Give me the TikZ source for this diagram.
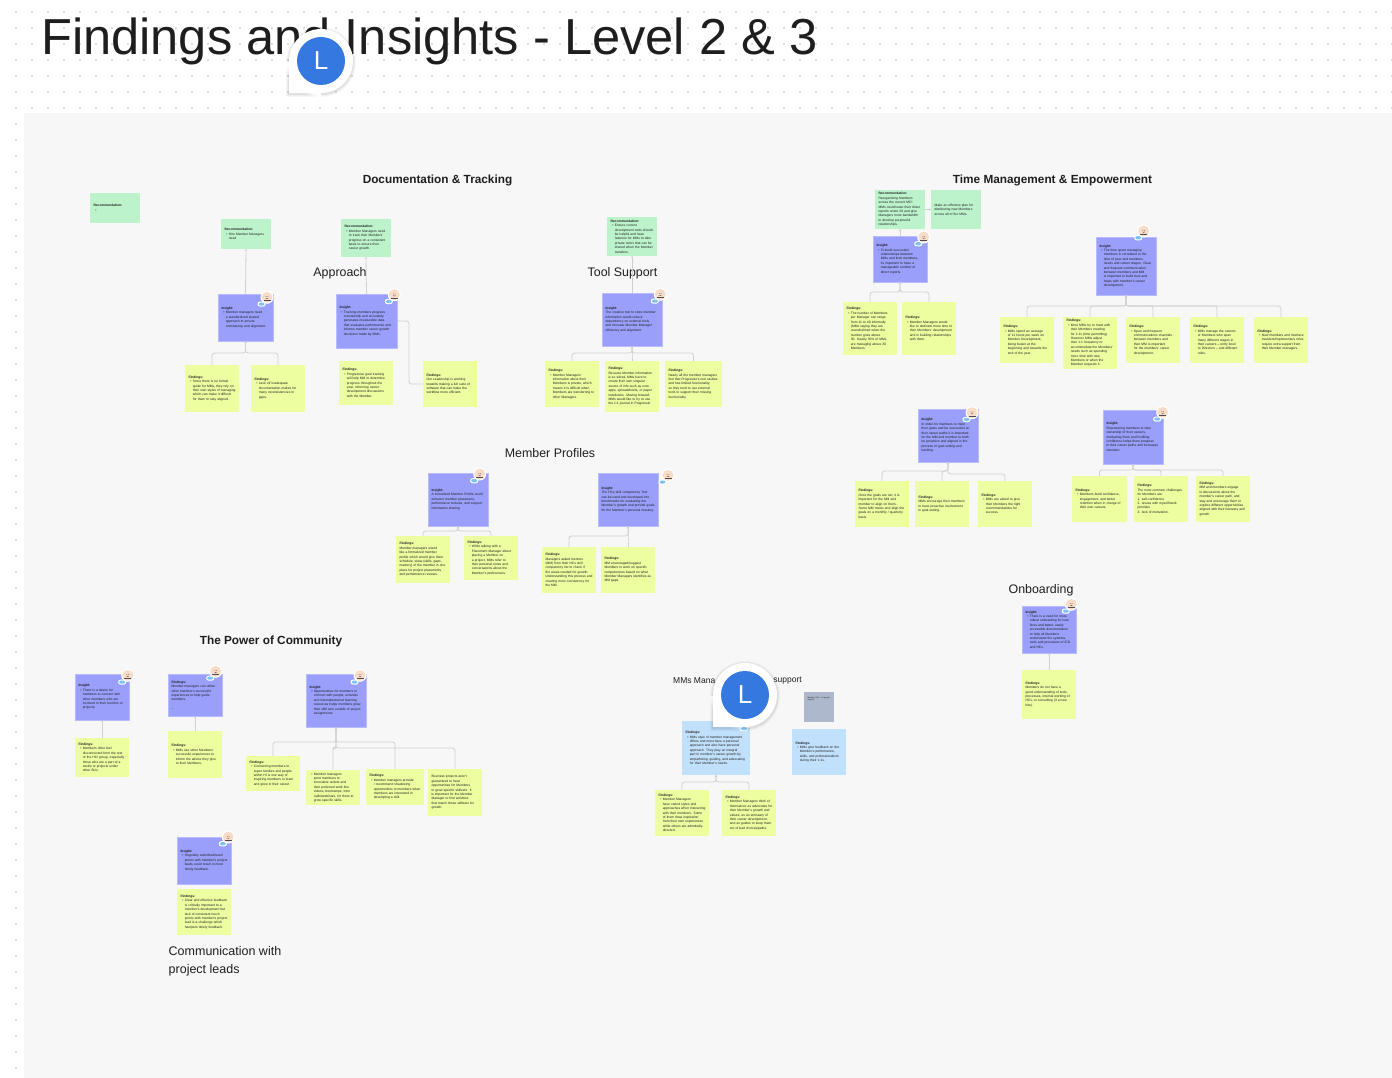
\documentclass[tikz,border=0pt]{standalone}
\usepackage{fontspec}
\setmainfont{Liberation Sans}
\usetikzlibrary{arrows.meta}
\hyphenpenalty=10000
\exhyphenpenalty=10000
\definecolor{inkc}{HTML}{1E1E1E}
\definecolor{insc}{HTML}{999FFB}
\definecolor{finc}{HTML}{EDFEA0}
\definecolor{recc}{HTML}{BCF3CB}
\definecolor{bluc}{HTML}{C1E0FB}
\definecolor{gryc}{HTML}{AEB8CC}
\definecolor{conc}{HTML}{D0D0D0}
\definecolor{bgc}{HTML}{F7F7F7}
\definecolor{dotc}{HTML}{BEBEBE}
\definecolor{peachc}{HTML}{F7DCC8}
\definecolor{pillc}{HTML}{7CC4F5}
\definecolor{markc}{HTML}{3478E0}
\tikzset{
  x=1pt,y=-1pt,
  notebase/.style={rectangle,inner sep=0pt,outer sep=0pt,align=left,text=inkc,
    font=\fontsize{3.3}{4.4}\selectfont},
  insight/.style={notebase,fill=insc,draw=insc!70!white,line width=.5pt},
  finding/.style={notebase,fill=finc},
  recom/.style={notebase,fill=recc},
  bluenote/.style={notebase,fill=bluc},
  greynote/.style={notebase,fill=gryc,font=\fontsize{2}{2.8}\selectfont},
  conn/.style={draw=conc,line width=.8pt,rounded corners=2.5pt,-{Stealth[length=2pt,width=2.4pt]}},
  sect/.style={text=inkc,inner sep=0pt,font=\fontsize{12.4}{14}\selectfont},
  sectb/.style={sect,font=\fontsize{11.8}{14}\selectfont\bfseries},
}
\newcommand{\stick}[7]{%
  \pgfmathsetmacro\cxv{(#3+#5)/2}\pgfmathsetmacro\cyv{(#4+#6)/2}%
  \pgfmathsetmacro\wv{#5-#3}\pgfmathsetmacro\hv{#6-#4}\pgfmathsetmacro\tv{\wv-7}%
  \node[#2,minimum width=\wv pt,minimum height=\hv pt,text width=\tv pt] (#1) at (\cxv,\cyv) {#7};}
\newcommand{\hd}[1]{{\bfseries #1}\par}
\newcommand{\itm}[1]{\hangindent=4.4pt\hangafter=0\leavevmode\llap{\textbullet\hspace{1.4pt}}#1\par}
\newcommand{\bus}[3]{\draw[conn] (#1.north) -- (#1.north |- 0,#3) -- (#2.south |- 0,#3) -- (#2.south);}
\newcommand{\avatar}[3]{%
  \begin{scope}[shift={(#1.north east)}]
    \fill[white] (#2,#3) circle[radius=6.5];
    \fill[peachc] (#2,#3) circle[radius=5.5];
    \draw[inkc,line width=.25pt] (#2-1.3,#3-.6) -- (#2-.4,#3-.6) (#2+.4,#3-.6) -- (#2+1.3,#3-.6) (#2-1,#3+.9) -- (#2,#3+1.4) -- (#2+1,#3+.9);
    \fill[inkc!80!white] (#2-3.5,#3+2.9) rectangle (#2+3.5,#3+3.4);
    \fill[white,rounded corners=2.6pt] (#2-9.6,#3+4.2) rectangle (#2-1.4,#3+9.4);
    \fill[pillc,rounded corners=1.6pt] (#2-8.6,#3+5.2) rectangle (#2-2.4,#3+8.4);
  \end{scope}}
\newcommand{\pinmark}[3]{%
  \foreach \g/\o in {3/.03,2/.04,1/.05}{
    \fill[black,opacity=\o] (#1,#2+1) circle[radius=32+\g] (#1-32-\g,#2+1) rectangle (#1,#2+33+\g);}
  \fill[white] (#1,#2) circle[radius=32];
  \fill[white] (#1-32,#2) rectangle (#1,#2+32);
  \fill[markc] (#1,#2) circle[radius=24];
  \node[text=white,inner sep=0pt,font=\fontsize{#3}{#3}\selectfont] (pin#1) at (#1,#2) {L};}
\begin{document}
\begin{tikzpicture}
\useasboundingbox (0,0) rectangle (1392,1078);
\fill[white] (0,0) rectangle (1392,1078);
\foreach \i in {1,...,87}{\foreach \j in {0,...,6}{\fill[dotc] (16*\i,12+16*\j) circle[radius=.8];}}
\foreach \j in {7,...,66}{\fill[dotc] (16,12+16*\j) circle[radius=.8];}
\fill[bgc] (24,113) rectangle (1392,1078);
% title and section labels
\node[anchor=west,text=inkc,inner sep=0pt,font=\fontsize{50.6}{56}\selectfont] (title) at (41,41) {Findings and Insights - Level 2 \& 3};
\node[sectb] (sDoc) at (437.5,180) {Documentation \& Tracking};
\node[sectb] (sTime) at (1052.5,180) {Time Management \& Empowerment};
\node[sectb] (sPow) at (271,641) {The Power of Community};
\node[sect] (sApp) at (340,273) {Approach};
\node[sect] (sTool) at (622.5,273) {Tool Support};
\node[sect] (sMem) at (550,453.5) {Member Profiles};
\node[sect] (sOnb) at (1041,590.5) {Onboarding};
\node[sect,anchor=north west,align=left,font=\fontsize{12.5}{18}\selectfont] (sCom) at (168.5,946) {Communication with\\project leads};
\node[sect,anchor=west,font=\fontsize{8.5}{10}\selectfont] (sMmA) at (673,680.5) {MMs Mana};
\node[sect,anchor=east,font=\fontsize{8.5}{10}\selectfont] (sMmB) at (802,680.5) {support};
% Documentation & Tracking
\stick{r0}{recom}{90}{193}{140}{223}{\hd{Recommendation:}\itm{}}
\stick{r1}{recom}{221}{219}{271}{249}{\hd{Recommendation:}\itm{Hire Member Managers need}}
\stick{i1}{insight}{218}{294}{273}{341}{\hd{Insight:}\itm{Member managers need a standardized shared approach to ensure consistency and alignment.}}
\stick{f1a}{finding}{185}{365}{239}{412}{\hd{Findings:}\itm{Since there is no formal guide for MMs, they rely on their own styles of managing which can make it difficult for them to stay aligned.}}
\stick{f1b}{finding}{251}{365}{305}{412}{\hd{Findings:}\itm{Lack of/ inadequate documentation makes for many inconsistencies in gaps.}}
\stick{r2}{recom}{341}{219}{391}{257}{\hd{Recommendation:}\itm{Member Managers need to track their Members' progress on a consistent basis to ensure their career growth.}}
\stick{i2}{insight}{336}{294}{397}{348}{\hd{Insight:}\itm{Tracking members progress consistently and accurately generates measurable data that evaluates performance and informs member career growth decisions made by MMs.}}
\stick{f2a}{finding}{339}{361}{393}{405}{\hd{Findings:}\itm{Progressive goal tracking will help MM to determine progress throughout the year, informing career development discussions with the Member.}}
\stick{f2b}{finding}{423}{361}{477}{407}{\hd{Findings:}Our Leadership is working towards making a full suite of software that can make the workflow more efficient.}
\stick{r3}{recom}{607}{217}{657}{256}{\hd{Recommendation:}\itm{Ensure current development tools should be helpful and have features for MMs to take private notes that can be shared when the Member transfers.}}
\stick{i3}{insight}{602}{293}{662}{346}{\hd{Insight:}The creative tool to store member information would reduce dependency on external tools and increase Member Manager efficiency and alignment.}
\stick{f3a}{finding}{545}{361}{599}{407}{\hd{Findings:}\itm{Member Managers' information about their Members is private, which means it is difficult when Members are transferring to other Managers.}}
\stick{f3b}{finding}{605}{361}{659}{412}{\hd{Findings:}Because Member information is so siloed, MMs have to create their own singular source of info such as note apps, spreadsheets, or paper notebooks. Moving forward, MMs would like to try to use the 1:1 journal in Progressio}
\stick{f3c}{finding}{665}{361}{722}{407}{\hd{Findings:}Nearly all the member managers feel that Progressio's tool studies and has limited functionality, so they tend to use external tools to support their missing functionality.}
% Time Management
\stick{rt1}{recom}{875}{190}{925}{229}{\hd{Recommendation:}Reorganizing Members across the current MCI MMs could lower their direct reports under 20 and give Managers more bandwidth to develop purposeful relationships.}
\stick{rt2}{recom}{931}{190}{981}{229}{Make an effective plan for distributing new Members across all of the MMs.}
\stick{it1}{insight}{873}{236}{927}{282}{\hd{Insight:}\itm{To build successful relationships between MMs and their members, its important to have a manageable number of direct reports.}}
\stick{ft1a}{finding}{843}{302}{897}{355}{\hd{Findings:}\itm{The number of Members per Manager can range from 11 to 40 informally (MMs saying they are overwhelmed when the number goes above 30. Nearly 30\% of MMs are managing above 30 Members.}}
\stick{ft1b}{finding}{902}{302}{956}{355}{\hd{Findings:}\itm{Member Managers would like to dedicate more time to their Members' development and in building relationships with them.}}
\stick{it2}{insight}{1096}{237}{1156}{295}{\hd{Insight:}\itm{The time spent managing members is correlated to the time of year and members needs and career stages. Clear and frequent communication between members and MM is important to build trust and helps with member's career development.}}
\stick{ft2a}{finding}{1000}{317}{1054}{363}{\hd{Findings:}\itm{MMs spend an average of 11 hours per week on Member Development, being busier at the beginning and towards the end of the year.}}
\stick{ft2b}{finding}{1063}{317}{1117}{369}{\hd{Findings:}\itm{Most MMs try to meet with their Members meeting for 1:1s (time permitting). However MMs adjust their 1:1 frequency to accommodate the Members' needs such as spending more time with new Members or when the Member requests it.}}
\stick{ft2c}{finding}{1126}{317}{1180}{363}{\hd{Findings:}\itm{Open and frequent communications channels between members and their MM is important for the members' career development.}}
\stick{ft2d}{finding}{1190}{317}{1244}{363}{\hd{Findings:}\itm{MMs manage the careers of Members who span many different stages in their careers -- entry level to Directors -- and different roles.}}
\stick{ft2e}{finding}{1254}{317}{1308}{363}{\hd{Findings:}\itm{New members and interface travelers/implementers roles require extra support from their Member managers.}}
\stick{ia}{insight}{918}{409}{978}{462}{\hd{Insight:}In order for members to meet their goals and be successful on their career paths it is important for the MM and member to both be proactive and aligned in the process of goal-setting and tracking.}
\stick{fa1}{finding}{855}{481}{909}{527}{\hd{Findings:}Once the goals are set, it is important for the MM and member to align on them. Some MM meets and align the goals on a monthly / quarterly basis.}
\stick{fa2}{finding}{915}{481}{969}{527}{\hd{Findings:}MMs encourage their members to have proactive involvement in goal-setting.}
\stick{fa3}{finding}{978}{481}{1032}{527}{\hd{Findings:}\itm{MMs are asked to give their Members the right recommendations for success.}}
\stick{ib}{insight}{1103}{410}{1163}{464}{\hd{Insight:}Empowering members to take ownership of their careers, motivating them and instilling confidence helps them progress in their career paths and increases retention.}
\stick{fb1}{finding}{1072}{476}{1127}{522}{\hd{Findings:}\itm{Members build confidence, engagement, and better retention when in charge of their own careers.}}
\stick{fb2}{finding}{1134}{476}{1188}{522}{\hd{Findings:}The most common challenges for Members are:\par 1. self-confidence\par 2. issues with myself/work priorities\par 3. lack of motivation.}
\stick{fb3}{finding}{1196}{476}{1250}{522}{\hd{Findings:}MM and members engage in discussions about the member's career path, and stay and encourage them to explore different opportunities aligned with their interests and growth.}
\stick{io}{insight}{1022}{606}{1076}{653}{\hd{Insight:}\itm{There is a need for more robust onboarding for new hires and better, easily accessible documentation to help all Members understand the systems, tools and processes of ICD and HCs.}}
\stick{fo}{finding}{1022}{670}{1076}{719}{\hd{Findings:}Members do not have a good understanding of tools, processes, internal working of HCs, or consulting (if a new hire).}
% Member Profiles
\stick{ip1}{insight}{428}{473}{488}{526}{\hd{Insight:}A formalized Member Profile could enhance member placement, performance reviews, and support information sharing.}
\stick{fp1a}{finding}{396}{536}{450}{583}{\hd{Findings:}Member managers would like a formalized member profile which would give them schedule, skew (skills, gaps, mastery) of the member in one place for project placements and performance reviews.}
\stick{fp1b}{finding}{464}{536}{518}{580}{\hd{Findings:}\itm{While talking with a Placement Manager about placing a Member on a project, MMs refer to their personal notes and conversations about the Member's preferences.}}
\stick{ip2}{insight}{598}{473}{658}{526}{\hd{Insight:}The HCs skill competency Tool can be used and developed into benchmarks for evaluating the Member's growth and provide goals for the Member's personal mastery.}
\stick{fp2a}{finding}{542}{547}{596}{593}{\hd{Findings:}Managers asked mentors (MM) from their HCs skill competency list to check if the areas needed for growth. Understanding this process and creating more consistency for the MM.}
\stick{fp2b}{finding}{601}{547}{655}{593}{\hd{Findings:}MM encouraged/suggest Members to work on specific competencies based on what Member Managers identifies as MM gaps.}
% The Power of Community
\stick{ic1}{insight}{75}{674}{129}{720}{\hd{Insight:}\itm{There is a desire for members to connect with other members who are involved in their function or projects.}}
\stick{fc1}{finding}{75}{738}{129}{777}{\hd{Findings:}\itm{Members often feel disconnected from the rest of the HCI group, especially those who are a part of a studio or projects under other BUs.}}
\stick{ic2}{insight}{168}{674}{222}{716}{\hd{Findings:}Member managers can utilize other member's successful experiences to help guide members.\par\vspace{4pt}...}
\stick{fc2}{finding}{168}{731}{222}{778}{\hd{Findings:}\itm{MMs use other Members' successful experiences to inform the advice they give to their Members.}}
\stick{ic3}{insight}{306}{674}{366}{727}{\hd{Insight:}\itm{Opportunities for members to connect with people, activities and internal/external learning resources helps members grow their skill sets outside of project assignments.}}
\stick{fc3a}{finding}{246}{756}{300}{791}{\hd{Findings:}\itm{Connecting members to super families and people within HI is one way of inspiring members to learn and grow in their career.}}
\stick{fc3b}{finding}{306}{770}{360}{805}{\itm{Member managers point members to innovative outlets and their preferred work like videos, bootcamps, Intro radio/webinars, for them to grow specific skills.}}
\stick{fc3c}{finding}{366}{769}{424}{805}{\hd{Findings:}\itm{Member managers provide / recommend shadowing opportunities to members when members are interested in developing a skill.}}
\stick{fc3d}{finding}{428}{769}{482}{816}{Business projects aren't guaranteed to have opportunities for Members to grow specific skillsets. It is important for the Member Manager to find activities that match those skillsets for growth.}
\stick{id}{insight}{177}{837}{231}{884}{\hd{Insight:}\itm{Regularly submitted/touch points with member's project leads could result in more timely feedback.}}
\stick{fd}{finding}{177}{889}{231}{935}{\hd{Findings:}\itm{Clear and effective feedback is critically important to a member's development but lack of consistent touch points with member's project lead is a challenge which hampers timely feedback.}}
% MMs support
\stick{gb}{greynote}{804}{692}{834}{722}{Member HCs -- to project support\par\vspace{16pt}}
\stick{ba}{bluenote}{682}{721}{750}{775}{\hd{Findings:}\itm{MMs style of member management differs and most have a personal approach and also have personal approach. They play an integral part in member's career growth by empathizing, guiding, and advocating for their Member's needs.}}
\stick{bb}{bluenote}{792}{729}{846}{775}{\hd{Findings:}\itm{MMs give feedback on the Member's performance, skills, and professionalism during their 1:1s.}}
\stick{fm1}{finding}{655}{790}{709}{836}{\hd{Findings:}\itm{Member Managers have varied styles and approaches when interacting with their members. Some of them draw inspiration from their own experiences while others are admittedly directed.}}
\stick{fm2}{finding}{722}{790}{776}{836}{\hd{Findings:}\itm{Member Managers think of themselves as advocates for their Member's growth and values, as an emissary of their career development, and as guides to keep them out of bad choices/paths.}}
% connectors
\draw[conn] (i1.north) -- (r1.south);
\draw[conn] (i2.north) -- (r2.south);
\draw[conn] (i3.north) -- (r3.south);
\draw[conn] (it1.north) -- (rt1.south);
\draw[conn] (rt1.east) -- (rt2.west);
\bus{f1a}{i1}{353}\bus{f1b}{i1}{353}
\draw[conn] (f2b.west) -- ++(-14,0) |- (i2.east);
\bus{f3a}{i3}{353}\bus{f3b}{i3}{353}\bus{f3c}{i3}{353}
\bus{ft1a}{it1}{292}\bus{ft1b}{it1}{292}
\bus{ft2a}{it2}{306}\bus{ft2b}{it2}{306}\bus{ft2c}{it2}{306}\bus{ft2d}{it2}{306}\bus{ft2e}{it2}{306}
\bus{fa1}{ia}{471}\bus{fa2}{ia}{471}\bus{fa3}{ia}{474}
\bus{fb1}{ib}{470}\bus{fb2}{ib}{470}\bus{fb3}{ib}{470}
\draw[conn] (fo.north) -- (io.south);
\bus{fp1a}{ip1}{531}\bus{fp1b}{ip1}{531}
\bus{fp2a}{ip2}{536}\bus{fp2b}{ip2}{536}
\draw[conn] (fc1.north) -- (ic1.south);
\draw[conn] (fc2.north) -- (ic2.south);
\bus{fc3a}{ic3}{742}\bus{fc3c}{ic3}{742}\bus{fc3b}{ic3}{748}\bus{fc3d}{ic3}{748}
\bus{fm1}{ba}{782}\bus{fm2}{ba}{782}
% avatars
\avatar{i1}{-6}{3.3}\avatar{i2}{-2.7}{.7}\avatar{i3}{-1.7}{1.3}
\avatar{it1}{-3.3}{1}\avatar{it2}{-12.3}{-6}
\avatar{ip1}{-8.3}{1}\avatar{ip2}{10}{2.3}
\avatar{ia}{-6}{3.7}\avatar{ib}{-.3}{2.3}
\avatar{ic1}{-1.3}{1.3}\avatar{ic2}{-6.3}{-2.7}\avatar{ic3}{-6}{1.3}
\avatar{id}{-2.7}{0}\avatar{io}{-4.7}{-1.7}\avatar{ba}{-.8}{.7}
% markers
\pinmark{321}{61}{26}
\pinmark{745}{695}{26}
\end{tikzpicture}
\end{document}
